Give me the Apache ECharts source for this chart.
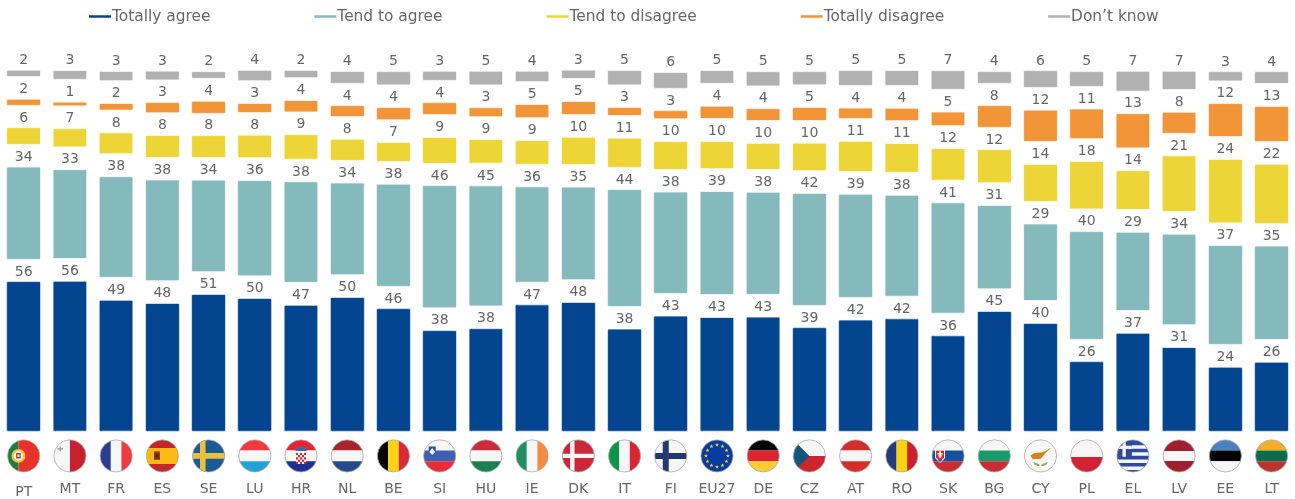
<!DOCTYPE html>
<html><head><meta charset="utf-8">
<style>html,body{margin:0;padding:0;background:#fff}#c{width:1295px;height:499px}</style>
<script src="https://cdn.jsdelivr.net/npm/echarts@6/dist/echarts.min.js"></script>
</head><body><div id="c"></div>
<script>
const categories = ['PT','MT','FR','ES','SE','LU','HR','NL','BE','SI','HU','IE','DK','IT','FI','EU27','DE','CZ','AT','RO','SK','BG','CY','PL','EL','LV','EE','LT'];
const totallyAgree    = [55.9,56.1,49.0,47.7,51.1,49.6,47.1,50.0,45.7,37.5,38.2,47.2,48.1,38.1,43.0,42.5,42.6,38.5,41.5,41.9,35.5,44.7,40.2,25.7,36.5,31.1,23.7,25.6];
const tendToAgree     = [34.3,33.1,37.6,37.6,34.1,35.5,37.5,34.2,38.0,45.6,44.9,35.5,34.5,43.5,37.8,38.5,38.1,41.7,38.5,37.7,41.2,31.0,28.5,40.1,29.1,33.8,36.8,34.8];
const tendToDisagree  = [5.8,6.5,7.5,7.8,7.8,8.1,8.8,7.5,6.8,9.3,8.5,8.5,9.9,10.5,10.0,9.9,9.5,10.0,11.0,10.5,11.5,12.0,13.5,17.5,14.2,20.5,23.6,21.9];
const totallyDisagree = [1.8,1.0,2.1,3.4,4.1,3.0,3.9,3.6,4.1,4.0,3.0,4.6,4.5,2.5,2.6,4.3,4.0,4.5,3.5,4.3,4.8,7.6,11.5,10.8,12.5,7.5,12.0,12.8];
const dontKnow        = [2.0,3.0,3.1,2.9,2.1,3.5,2.4,4.0,4.6,3.0,4.8,3.6,2.8,5.0,5.5,4.5,5.0,4.5,5.1,5.3,6.6,3.9,5.8,5.1,7.1,6.5,3.0,4.0];
const segmentGap = categories.map(() => 9);
const seriesNames = ['Totally agree','Tend to agree','Tend to disagree','Totally disagree','Don’t know'];
const seriesValues = [totallyAgree,tendToAgree,tendToDisagree,totallyDisagree,dontKnow];
const seriesColors = ['#03468f','#84babb','#eed537','#f29538','#b1b1b1'];

const FONT = '"DejaVu Sans", Verdana, sans-serif';
const TEXT = '#666666';

/* flag primitives, local units: circle of radius 16 */
const R=(x,y,w,h,c)=>({type:'rect',shape:{x,y,width:w,height:h},style:{fill:c}});
const C=(x,y,r,c)=>({type:'circle',shape:{cx:x,cy:y,r},style:{fill:c}});
const P=(pts,c)=>({type:'polygon',shape:{points:pts},style:{fill:c}});
const H=(a,b,c,s1=-5.3,s2=5.3)=>[R(-17,-17,34,s1+17,a),R(-17,s1,34,s2-s1,b),R(-17,s2,34,17-s2,c)];
const V=(a,b,c,s1=-5.3,s2=5.3)=>[R(-17,-17,s1+17,34,a),R(s1,-17,s2-s1,34,b),R(s2,-17,17-s2,34,c)];
const star=(x,y,r,c)=>{const p=[];for(let i=0;i<10;i++){const a=-Math.PI/2+i*Math.PI/5,q=i%2?r*0.42:r;p.push([x+q*Math.cos(a),y+q*Math.sin(a)]);}return P(p,c);};
const euStars=()=>{const o=[];for(let i=0;i<12;i++){const a=i*Math.PI/6;o.push(star(11*Math.sin(a),-11*Math.cos(a),2.1,'#f4d52a'));}return o;};
const checker=()=>{const o=[R(-5,-3,10,11,'#ffffff')];for(let r=0;r<5;r++)for(let k=0;k<5;k++)if((r+k)%2===0)o.push(R(-5+k*2,-3+r*2.2,2,2.2,'#e0202c'));return o;};
const greek=()=>{const o=[R(-17,-17,34,34,'#2e4a9e')];for(let i=0;i<4;i++)o.push(R(-17,-10.7+i*7.1,34,3.55,'#f6f6f6'));o.push(R(-17,-17,16,17.8,'#2e4a9e'),R(-10.5,-17,3.4,17.8,'#f6f6f6'),R(-17,-10.2,16,3.4,'#f6f6f6'));return o;};
const flags = {
 PT:[R(-17,-17,11.7,34,'#1f7a3e'),R(-5.3,-17,23,34,'#e5332a'),C(-5.3,0,7,'#e9c53a'),C(-5.3,0,4.6,'#fff'),R(-7.6,-3,4.6,5.6,'#c8282a'),R(-6.4,-1.4,2.2,2.6,'#fff')],
 MT:[R(-17,-17,17,34,'#f6f6f6'),R(0,-17,17,34,'#c8202f'),R(-10.5,-9.5,1.6,5,'#a8a8a8'),R(-12.5,-7.8,5.6,1.6,'#a8a8a8')],
 FR:V('#2a3e90','#f6f6f6','#ee3a40'),
 ES:[...H('#c4272b','#fdb913','#c4272b',-8,8),R(-8.4,-3.6,6,7.4,'#7a3a1a'),R(-8,-4.6,5.2,1.6,'#c4272b'),R(-6.4,-1.5,2,3,'#3a2a1a')],
 SE:[R(-17,-17,34,34,'#1b5a96'),R(-8.6,-17,5.6,34,'#e8c23c'),R(-17,-2.8,34,5.6,'#e8c23c')],
 LU:H('#ef3b3f','#f6f6f6','#22a3d8'),
 HR:[...H('#e8232e','#f8f8f8','#1f2f8f'),R(-5.5,-9,11,4,'#3f6aa8'),...checker()],
 NL:H('#a8232b','#f6f6f6','#244a8c'),
 BE:V('#050505','#fcd116','#db2a33'),
 SI:[...H('#f6f6f6','#3f60b0','#ed2b33'),P([[-11,-9.5],[-4,-9.5],[-4,-3],[-7.5,0],[-11,-3]],'#2f4f9c'),P([[-10.5,-4],[-7.5,-8],[-4.5,-4],[-7.5,-1]],'#f6f6f6')],
 HU:H('#cd2a3e','#f6f6f6','#1c7f50'),
 IE:V('#1f8f63','#f6f6f6','#f68a42'),
 DK:[R(-17,-17,34,34,'#cc2639'),R(-8.2,-17,4.4,34,'#f6f6f6'),R(-17,-2.2,34,4.4,'#f6f6f6')],
 IT:V('#0d9447','#f6f6f6','#d9252f'),
 FI:[R(-17,-17,34,34,'#f6f6f6'),R(-8,-17,6,34,'#25386e'),R(-17,-3,34,6,'#25386e')],
 EU27:[R(-17,-17,34,34,'#083c9e'),...euStars()],
 DE:H('#050505','#dd2430','#ffcb31'),
 CZ:[R(-17,-17,34,17,'#f6f6f6'),R(-17,0,34,17,'#cb2630'),P([[-17,-17],[0,0],[-17,17]],'#14567a')],
 AT:H('#d42e2a','#f6f6f6','#d42e2a'),
 RO:V('#26397c','#f6d20f','#cd1f2e'),
 SK:[...H('#f6f6f6','#1650a0','#cb2b33'),P([[-13,-6],[-3,-6],[-3,2],[-8,7],[-13,2]],'#f6f6f6'),P([[-12,-5.2],[-4,-5.2],[-4,1.6],[-8,5.8],[-12,1.6]],'#d8232f'),R(-8.8,-4.6,1.6,7,'#fff'),R(-10.6,-2.8,5.2,1.3,'#fff'),R(-10,-0.6,4,1.3,'#fff'),C(-8,4.2,1.6,'#2a5cac')],
 BG:H('#f6f6f6','#189a6b','#cc2a35'),
 CY:[R(-17,-17,34,34,'#f8f8f8'),P([[-10,-0.5],[-6,-3],[1,-3.5],[5,-5],[11,-8.5],[5,-3],[3,-0.5],[0,3],[-4,3],[-8,3]],'#d9801f'),P([[-7,6],[-2,8],[0,9.5],[-3,10],[-6,8.5]],'#9aa37a'),P([[7,6],[2,8],[0,9.5],[3,10],[6,8.5]],'#9aa37a')],
 PL:[R(-17,-17,34,18,'#f9f5f5'),R(-17,1,34,16,'#d02436')],
 EL:greek(),
 LV:H('#a2202d','#f6f6f6','#a2202d',-5,5),
 EE:H('#4a80bd','#050505','#f6f6f6'),
 LT:H('#f0b02a','#0c6b4a','#b8342c')
};

const mkSeries = [];
seriesNames.forEach((name,i)=>{
  mkSeries.push({
    name,type:'bar',stack:'s',barWidth:32.6,data:seriesValues[i],
    itemStyle:{color:seriesColors[i],shadowColor:seriesColors[i],shadowBlur:1.2},
    emphasis:{disabled:true},
    label:{show:true,position:'top',distance:3.5,color:TEXT,fontFamily:FONT,fontSize:14,
      formatter:p=>String(Math.round(p.value))}
  });
  if(i<seriesNames.length-1) mkSeries.push({
    name:'gap'+i,type:'bar',stack:'s',barWidth:32.6,data:segmentGap,silent:true,
    itemStyle:{color:'rgba(0,0,0,0)'},label:{show:false},emphasis:{disabled:true}
  });
});
mkSeries.push({
  name:'flags',type:'custom',silent:true,z:5,clip:false,
  data:categories.map((c,i)=>[i,0]),
  encode:{x:0,y:1},
  renderItem:(params,api)=>{
    const pt=api.coord([api.value(0),0]);
    const key=categories[api.value(0)];
    return {type:'group',x:pt[0],y:pt[1]+25.4,children:[
      {type:'group',clipPath:{type:'circle',shape:{cx:0,cy:0,r:16}},children:flags[key]},
      {type:'circle',shape:{cx:0,cy:0,r:16.1},style:{fill:'none',stroke:'#a9a9a9',lineWidth:0.8}}
    ]};
  }
});

const chart=echarts.init(document.getElementById('c'),null,{renderer:'canvas'});
chart.setOption({
  animation:false,backgroundColor:'#fff',
  textStyle:{fontFamily:FONT},
  legend:{
    data:seriesNames.map((n,i)=>({name:n,itemStyle:{color:seriesColors[i],borderWidth:0}})),
    left:89,top:9,padding:0,icon:'rect',itemWidth:22,itemHeight:2.5,itemGap:104,
    selectedMode:false,
    textStyle:{color:TEXT,fontFamily:FONT,fontSize:15.4,padding:[0,0,0,-4]}
  },
  grid:{left:0.6,right:0.3,top:70.1,height:361.76,containLabel:false},
  xAxis:{type:'category',data:categories,
    axisLine:{show:false},axisTick:{show:false},
    axisLabel:{interval:0,margin:51.5,color:TEXT,fontFamily:FONT,fontSize:14,hideOverlap:false,
      formatter:v=>v==='PT'?'{low|PT}':v,
      rich:{low:{color:TEXT,fontFamily:FONT,fontSize:14,padding:[3,0,0,0]}}}},
  yAxis:{type:'value',min:0,max:136,show:false,splitLine:{show:false}},
  tooltip:{show:false},
  series:mkSeries
});
</script></body></html>
